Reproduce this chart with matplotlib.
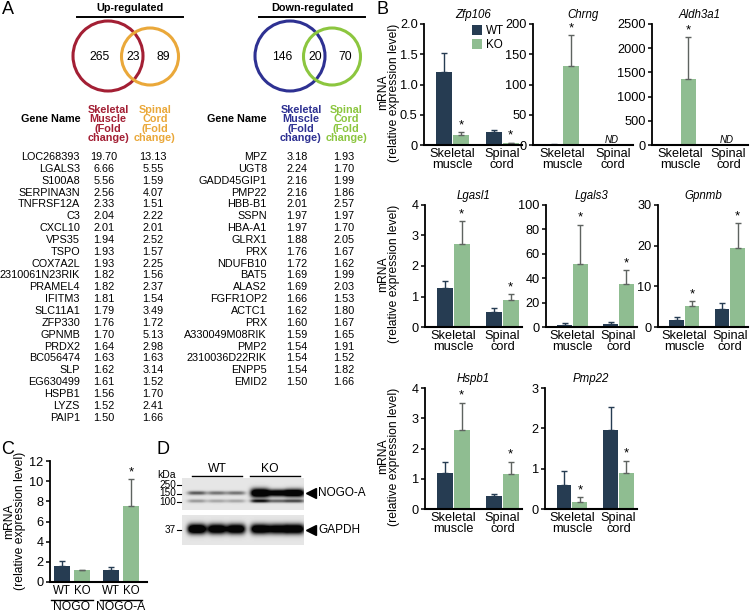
import numpy as np
import matplotlib
matplotlib.use('Agg')
import matplotlib.pyplot as plt
from matplotlib.patches import Circle

plt.rcParams['font.family'] = ['Liberation Sans', 'DejaVu Sans']

W, H = 750, 612
WT_COLOR = '#263c52'
KO_COLOR = '#8fbd91'
KO_ERR = '#5e6360'
RED, ORANGE, BLUE, GREEN = '#a31f34', '#eaa83a', '#2e3192', '#8cc63f'

# panel A: venn counts and gene tables
venn_up = [265, 23, 89]
venn_down = [146, 20, 70]

genes_up = ['LOC268393', 'LGALS3', 'S100A8', 'SERPINA3N', 'TNFRSF12A', 'C3', 'CXCL10', 'VPS35',
            'TSPO', 'COX7A2L', '2310061N23RIK', 'PRAMEL4', 'IFITM3', 'SLC11A1', 'ZFP330', 'GPNMB',
            'PRDX2', 'BC056474', 'SLP', 'EG630499', 'HSPB1', 'LYZS', 'PAIP1']
up_muscle = [19.70, 6.66, 5.56, 2.56, 2.33, 2.04, 2.01, 1.94, 1.93, 1.93, 1.82, 1.82, 1.81, 1.79,
             1.76, 1.70, 1.64, 1.63, 1.62, 1.61, 1.56, 1.52, 1.50]
up_cord = [13.13, 5.55, 1.59, 4.07, 1.51, 2.22, 2.01, 2.52, 1.57, 2.25, 1.56, 2.37, 1.54, 3.49,
           1.72, 5.13, 2.98, 1.63, 3.14, 1.52, 1.70, 2.41, 1.66]

genes_down = ['MPZ', 'UGT8', 'GADD45GIP1', 'PMP22', 'HBB-B1', 'SSPN', 'HBA-A1', 'GLRX1', 'PRX',
              'NDUFB10', 'BAT5', 'ALAS2', 'FGFR1OP2', 'ACTC1', 'PRX', 'A330049M08RIK', 'PMP2',
              '2310036D22RIK', 'ENPP5', 'EMID2']
down_muscle = [3.18, 2.24, 2.16, 2.16, 2.01, 1.97, 1.97, 1.88, 1.76, 1.72, 1.69, 1.69, 1.66, 1.62,
               1.60, 1.59, 1.54, 1.54, 1.54, 1.50]
down_cord = [1.93, 1.70, 1.99, 1.86, 2.57, 1.97, 1.70, 2.05, 1.67, 1.62, 1.99, 2.03, 1.53, 1.80,
             1.67, 1.65, 1.91, 1.52, 1.82, 1.66]

# panel B: qPCR, [skeletal muscle, spinal cord]
nan = np.nan
b_genes = ['Zfp106', 'Chrng', 'Aldh3a1', 'Lgasl1', 'Lgals3', 'Gpnmb', 'Hspb1', 'Pmp22']
b_wt = [[1.20, 0.21], [1.0, nan], [1.0, nan], [1.27, 0.50], [2.0, 2.5], [1.7, 4.4], [1.18, 0.43], [0.60, 1.95]]
b_wt_err = [[0.32, 0.04], [nan, nan], [nan, nan], [0.25, 0.12], [1.5, 1.5], [0.8, 1.6], [0.37, 0.07], [0.35, 0.58]]
b_ko = [[0.17, 0.03], [130, nan], [1360, nan], [2.72, 0.90], [52, 35.5], [5.2, 19.5], [2.62, 1.15], [0.18, 0.90]]
b_ko_err = [[0.04, 0.01], [51, nan], [870, nan], [0.76, 0.18], [32, 11], [1.2, 6.0], [0.90, 0.42], [0.12, 0.30]]
b_stars = [[1, 1], [1, 0], [1, 0], [1, 1], [1, 1], [1, 1], [1, 1], [1, 1]]
b_yticks = [[0, 0.5, 1.0, 1.5, 2.0], [0, 50, 100, 150, 200], [0, 500, 1000, 1500, 2000, 2500],
            [0, 1, 2, 3, 4], [0, 20, 40, 60, 80, 100], [0, 10, 20, 30], [0, 1, 2, 3, 4], [0, 1, 2, 3]]
b_yticklabels = [['0', '0.5', '1.0', '1.5', '2.0'], None, None, None, None, None, None, None]
b_groups = ['Skeletal\nmuscle', 'Spinal\ncord']

# panel C
c_wt = [1.6, 1.15]
c_wt_err = [0.5, 0.35]
c_ko = [1.15, 7.5]
c_ko_err = [0.05, 2.7]
c_groups = ['NOGO', 'NOGO-A']

# panel D: band strength per lane (WT x3, KO x3)
nogo_a_amp = [0.55, 0.45, 0.45, 1.4, 1.2, 1.3]
nogo_a_sig = [2.0, 2.0, 2.0, 4.5, 3.5, 4.0]
nogo_low_amp = [0.30, 0.25, 0.25, 0.8, 0.5, 0.6]
gapdh_amp = [1.4, 1.3, 1.3, 1.3, 1.2, 1.3]
lane_x = [197, 217, 236, 260, 278, 295]

TABLE_FS = 7.8
TICK_FS = 9.2

fig = plt.figure(figsize=(W / 100, H / 100), dpi=100)
base = fig.add_axes([0, 0, 1, 1])
base.set_xlim(0, W)
base.set_ylim(H, 0)
base.axis('off')


def add_ax(x0, y0, x1, y1):
    return fig.add_axes([x0 / W, 1 - y1 / H, (x1 - x0) / W, (y1 - y0) / H])


def style_ax(ax, yticks, yticklabels=None):
    ax.set_ylim(0, yticks[-1])
    ax.spines[['top', 'right']].set_visible(False)
    ax.spines['left'].set_linewidth(1.3)
    ax.spines['bottom'].set_linewidth(1.5)
    ax.set_yticks(yticks)
    if yticklabels:
        ax.set_yticklabels(yticklabels)
    ax.tick_params(axis='y', length=3, width=1.1, labelsize=TICK_FS, pad=1.5)
    ax.tick_params(axis='x', length=0, labelsize=TICK_FS, pad=2)
    ax.patch.set_alpha(0)


def draw_bars(ax, pos_wt, pos_ko, wt, wt_e, ko, ko_e, stars):
    w = 0.32
    ax.bar(pos_wt, wt, w, color=WT_COLOR)
    ax.bar(pos_ko, ko, w, color=KO_COLOR)
    ax.errorbar(pos_wt, wt, yerr=[np.zeros(len(wt)), wt_e], fmt='none', ecolor=WT_COLOR,
                elinewidth=1, capsize=2.5, capthick=1)
    ax.errorbar(pos_ko, ko, yerr=[np.zeros(len(ko)), ko_e], fmt='none', ecolor=KO_ERR,
                elinewidth=1, capsize=2.5, capthick=1)
    for p, m, e, s in zip(pos_ko, ko, ko_e, stars):
        if s:
            ax.annotate('*', xy=(p, m + e), xytext=(0, 0.5), textcoords='offset points',
                        ha='center', va='bottom', fontsize=9.5)


def ylabel(x, yc):
    # two separate lines so the short "mRNA" keeps a tight box
    base.text(x - 5.5, yc, 'mRNA', rotation=90, ha='center', va='center', fontsize=8.7)
    base.text(x + 5.5, yc, '(relative expression level)', rotation=90, ha='center', va='center',
              fontsize=8.7)


# ---- panel A ----
base.text(2, 9, 'A', fontsize=13, va='center')
for cx, title, counts, c1, c2 in [(130, 'Up-regulated', venn_up, RED, ORANGE),
                                   (312, 'Down-regulated', venn_down, BLUE, GREEN)]:
    base.text(cx, 8, title, fontsize=7.8, fontweight='bold', ha='center', va='center')
    base.plot([cx - 53, cx + 53], [16.5, 16.5], color='k', lw=1.4)
    base.add_patch(Circle((cx - 22, 56), 35, fill=False, ec=c1, lw=2.2))
    base.add_patch(Circle((cx + 20, 56.5), 28.5, fill=False, ec=c2, lw=2.2))
    for dx, n in zip([-30, 3, 33], counts):
        base.text(cx + dx, 57, str(n), fontsize=8.7, ha='center', va='center')

row0, dy = 157, 11.85
tables = [(51, 80, 104, 153, RED, ORANGE, genes_up, up_muscle, up_cord),
          (237, 267, 297, 344, BLUE, GREEN, genes_down, down_muscle, down_cord)]
for gx, nx, v1, v2, c1, c2, genes, m, c in tables:
    base.text(gx, 119, 'Gene Name', fontsize=TABLE_FS, fontweight='bold', ha='center', va='center')
    base.text(v1 + 4, 124, 'Skeletal\nMuscle\n(Fold\nchange)', color=c1, fontsize=TABLE_FS,
              fontweight='bold', ha='center', va='center', linespacing=0.93)
    base.text(v2 + 2, 124, 'Spinal\nCord\n(Fold\nchange)', color=c2, fontsize=TABLE_FS,
              fontweight='bold', ha='center', va='center', linespacing=0.93)
    for i, (g, a, b) in enumerate(zip(genes, m, c)):
        y = row0 + i * dy
        base.text(nx, y, g, fontsize=TABLE_FS, ha='right', va='center')
        base.text(v1, y, f'{a:.2f}', fontsize=TABLE_FS, ha='center', va='center')
        base.text(v2, y, f'{b:.2f}', fontsize=TABLE_FS, ha='center', va='center')

# ---- panel B ----
base.text(377, 9, 'B', fontsize=13, va='center')
boxes = [(424, 24, 522, 145), (533, 24, 633, 145), (652, 24, 748, 145),
         (425, 205, 522, 327), (546, 205, 637, 327), (658, 205, 748, 327),
         (425, 388, 522, 509), (545, 388, 637, 509)]
x = np.arange(2)
for k, box in enumerate(boxes):
    ax = add_ax(*box)
    draw_bars(ax, x - 0.17, x + 0.17, b_wt[k], b_wt_err[k], b_ko[k], b_ko_err[k], b_stars[k])
    style_ax(ax, b_yticks[k], b_yticklabels[k])
    ax.set_xlim(-0.58, 1.4)
    ax.set_xticks(x)
    ax.set_xticklabels(b_groups, linespacing=0.95)
    ax.set_title(b_genes[k], fontsize=8.3, fontstyle='italic', pad=4)
    if np.isnan(b_ko[k][1]):
        ax.text(0.97, 0, 'ND', fontsize=7, fontstyle='italic', ha='center', va='bottom')
    if k == 0:
        ax.bar([0], [0], color=WT_COLOR, label='WT')
        ax.bar([0], [0], color=KO_COLOR, label='KO')
        ax.legend(loc='upper right', bbox_to_anchor=(0.9, 1.06), frameon=False, fontsize=8.4,
                  handlelength=0.9, handleheight=0.9, handletextpad=0.3, labelspacing=0.2,
                  borderpad=0.2)
for y0, y1 in [(24, 145), (205, 327), (388, 509)]:
    ylabel(389, (y0 + y1) / 2 + 8)

# ---- panel C ----
base.text(1, 449, 'C', fontsize=13, va='center')
ax = add_ax(50, 461, 147, 582)
cpos_wt = x - 0.2
cpos_ko = x + 0.2
draw_bars(ax, cpos_wt, cpos_ko, c_wt, c_wt_err, c_ko, c_ko_err, [0, 1])
style_ax(ax, [0, 2, 4, 6, 8, 10, 12])
ax.set_xlim(-0.45, 1.53)
ax.set_xticks(np.concatenate([cpos_wt, cpos_ko]))
ax.set_xticklabels(['WT', 'WT', 'KO', 'KO'], fontsize=8.3)
tr = ax.get_xaxis_transform()
for g, name in zip(x, c_groups):
    ax.plot([g - 0.42, g + 0.42], [-0.145, -0.145], color='k', lw=1, transform=tr, clip_on=False)
    ax.text(g, -0.21, name, fontsize=8.7, ha='center', va='center', transform=tr)
ylabel(15, 521)

# ---- panel D ----
base.text(157, 449, 'D', fontsize=13, va='center')


def blot(x0, x1, y0, y1, bands):
    X, Y = np.meshgrid(np.arange(x0, x1) + 0.5, np.arange(y0, y1) + 0.5)
    img = np.full(X.shape, 0.9)
    for yc, sigs, amps in bands:
        for xc, s, a in zip(lane_x, sigs, amps):
            img -= a * np.exp(-((X - xc) / 9.5) ** 4) * np.exp(-((Y - yc) / s) ** 2)
    img = np.clip(img, 0.02, 1)
    base.imshow(img, cmap='gray', vmin=0, vmax=1, extent=[x0, x1, y1, y0], aspect='auto',
                interpolation='bilinear')


blot(182, 304, 478, 510, [(493, nogo_a_sig, nogo_a_amp), (501, [1.8] * 6, nogo_low_amp)])
blot(182, 304, 515, 545, [(529, [5.0] * 6, gapdh_amp)])
base.set_xlim(0, W)
base.set_ylim(H, 0)

base.text(217, 469, 'WT', fontsize=8.7, ha='center', va='center')
base.text(270, 469, 'KO', fontsize=8.7, ha='center', va='center')
base.plot([192, 242], [476, 476], color='k', lw=1)
base.plot([250, 300], [476, 476], color='k', lw=1)
base.text(166, 475, 'kDa', fontsize=7.5, ha='center', va='center')
for y, lab in [(485, '250'), (493.5, '150'), (502, '100'), (530, '37')]:
    base.text(176, y, lab, fontsize=7.2, ha='right', va='center')
    base.plot([177, 181], [y, y], color='k', lw=0.8)
for y, lab in [(493, 'NOGO-A'), (530, 'GAPDH')]:
    base.plot([311], [y], marker='<', color='k', markersize=7)
    base.text(318, y, lab, fontsize=8.5, ha='left', va='center')

fig.savefig('out.png', dpi=100)
